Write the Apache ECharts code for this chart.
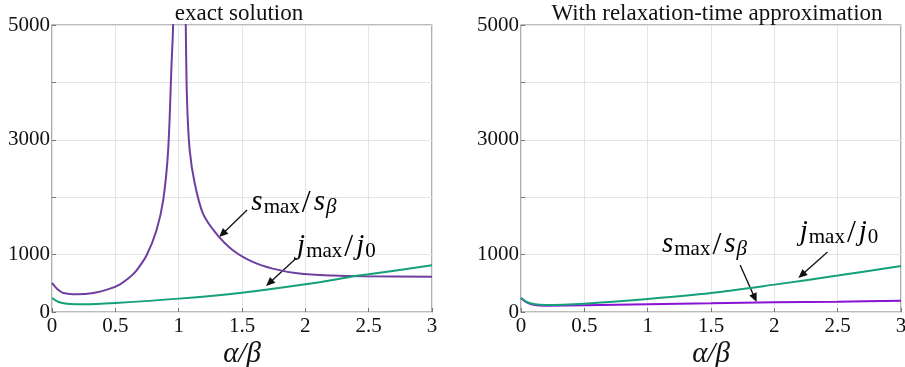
<!DOCTYPE html>
<html>
<head>
<meta charset="utf-8">
<script src="https://cdn.jsdelivr.net/npm/echarts@6/dist/echarts.min.js"></script>
<style>
  html, body { margin: 0; padding: 0; background: #fff; }
  #main { width: 905px; height: 367px; }
</style>
</head>
<body>
<div id="main"></div>
<script>
// exact solution, s_max/s_beta (diverges near alpha/beta = 1, gap at the pole)
var exactSX = [0, 0.039, 0.092, 0.196, 0.327, 0.458, 0.537, 0.616, 0.668, 0.747, 0.825, 0.878, 0.917, 0.943, 0.956, 0.97, null,
               1.04, 1.056, 1.066, 1.087, 1.127, 1.192, 1.297, 1.428, 1.585, 1.742, 1.952, 2.214, 2.476, 3];
var exactSY = [506, 407, 331, 308, 331, 407, 483, 610, 727, 988, 1424, 1948, 2820, 4273, 5000, 8000, null,
               8000, 5000, 3692, 2820, 2238, 1715, 1366, 1076, 872, 756, 669, 634, 622, 616];
// exact solution, j_max/j_0
var exactJX = [0, 0.052, 0.118, 0.249, 0.5, 1, 1.5, 2, 2.42, 2.5, 3];
var exactJY = [244, 174, 145, 134, 157, 233, 337, 483, 634, 657, 814];
// relaxation-time approximation
var relaxX = [0, 0.045, 0.11, 0.19, 0.5, 1, 1.5, 2, 2.5, 3];
var relaxJY = [244, 174, 134, 122, 145, 227, 331, 477, 634, 802];
var relaxSY = [244, 169, 122, 110, 116, 134, 151, 169, 180, 198];

var yLabels = [0, 1000, 3000, 5000];

var purple = '#6f3fa0';
var violet = '#8a12d4';
var green = '#16a07a';
var serif = '"Liberation Serif", "DejaVu Serif", serif';

function pairs(xs, ys) {
  return xs.map(function (x, i) { return x === null ? ['-', '-'] : [x, ys[i]]; });
}

var chart = echarts.init(document.getElementById('main'));

function xAxis(idx) {
  return {
    type: 'value', gridIndex: idx, min: 0, max: 3, interval: 0.5,
    name: 'α/β', nameLocation: 'middle', nameGap: 28, nameMoveOverlap: false,
    nameTextStyle: { fontFamily: serif, fontStyle: 'italic', fontSize: 29, color: '#111' },
    axisLine: { show: false },
    axisTick: { inside: true, length: 4, lineStyle: { color: '#777' } },
    axisLabel: { fontFamily: serif, fontSize: 21, color: '#111', margin: 4 },
    splitLine: { show: true, lineStyle: { color: '#e4e4e4', width: 1 } }
  };
}
function yAxis(idx) {
  return {
    type: 'value', gridIndex: idx, min: 0, max: 5000, interval: 1000,
    axisLine: { show: false },
    axisTick: { inside: true, length: 4, lineStyle: { color: '#777' } },
    axisLabel: {
      fontFamily: serif, fontSize: 21, color: '#111', margin: 2,
      formatter: function (v) { return yLabels.indexOf(v) >= 0 ? String(v) : ''; }
    },
    splitLine: { show: true, lineStyle: { color: '#e4e4e4', width: 1 } }
  };
}

function line(name, data, color, idx) {
  return {
    name: name, type: 'line', xAxisIndex: idx, yAxisIndex: idx,
    data: data, smooth: 0.3, showSymbol: false, connectNulls: false,
    lineStyle: { color: color, width: 2 }, clip: true
  };
}

chart.setOption({
  backgroundColor: '#fff',
  animation: false,
  title: [
    { text: 'exact solution', left: 234, top: -3, textAlign: 'center',
      textStyle: { fontFamily: serif, fontWeight: 'normal', fontSize: 23, color: '#111' } },
    { text: 'With relaxation-time approximation', left: 712, top: -3, textAlign: 'center',
      textStyle: { fontFamily: serif, fontWeight: 'normal', fontSize: 23, color: '#111' } }
  ],
  grid: [
    { left: 52, top: 25, width: 380, height: 287, show: true, borderColor: '#7a7a7a', borderWidth: 1.2,
      outerBoundsMode: 'none', containLabel: false },
    { left: 521, top: 25, width: 380, height: 287, show: true, borderColor: '#7a7a7a', borderWidth: 1.2,
      outerBoundsMode: 'none', containLabel: false }
  ],
  xAxis: [xAxis(0), xAxis(1)],
  yAxis: [yAxis(0), yAxis(1)],
  series: [
    line('s exact', pairs(exactSX, exactSY), purple, 0),
    line('j exact', pairs(exactJX, exactJY), green, 0),
    line('s relax', pairs(relaxX, relaxSY), violet, 1),
    line('j relax', pairs(relaxX, relaxJY), green, 1)
  ]
});

// annotations: [grid, textX, textY, arrowFromX, arrowFromY, arrowToX, arrowToY, kind]
var notes = [
  [0, 1.574, 1899, 1.54, 1777, 1.32, 1306, 's'],
  [0, 1.935, 1132, 1.93, 941, 1.69, 453, 'j'],
  [1, 1.113, 1167, 1.73, 819, 1.86, 174, 's'],
  [1, 2.20, 1376, 2.42, 1045, 2.19, 592, 'j']
];

var rich = {
  it: { fontFamily: serif, fontStyle: 'italic', fontSize: 29, color: '#111', lineHeight: 28, verticalAlign: 'top', padding: [0, 1, 0, 0] },
  n: { fontFamily: serif, fontSize: 32, color: '#111', lineHeight: 30, verticalAlign: 'top', padding: [0, 3, 0, 2] },
  sub: { fontFamily: serif, fontSize: 21, color: '#111', lineHeight: 20, verticalAlign: 'bottom' },
  subi: { fontFamily: serif, fontStyle: 'italic', fontSize: 21, color: '#111', lineHeight: 20, verticalAlign: 'bottom' }
};

var graphics = [];
notes.forEach(function (n) {
  var g = { gridIndex: n[0] };
  var t = chart.convertToPixel(g, [n[1], n[2]]);
  var a = chart.convertToPixel(g, [n[3], n[4]]);
  var b = chart.convertToPixel(g, [n[5], n[6]]);
  var txt = n[7] === 's'
    ? '{it|s}{sub|max}{n|/}{it|s}{subi|β}'
    : '{it|j}{sub|max}{n|/}{it|j}{sub|0}';
  graphics.push({
    type: 'text', x: t[0], y: t[1],
    style: { text: txt, rich: rich, verticalAlign: 'middle', align: 'left', lineHeight: 33 }
  });
  var dx = b[0] - a[0], dy = b[1] - a[1];
  var len = Math.sqrt(dx * dx + dy * dy);
  var ux = dx / len, uy = dy / len;
  var hl = 9, hw = 4;
  var bx = b[0] - ux * hl, by = b[1] - uy * hl;
  graphics.push({
    type: 'line',
    shape: { x1: a[0], y1: a[1], x2: bx + ux * 2, y2: by + uy * 2 },
    style: { stroke: '#111', lineWidth: 1.3 }
  });
  graphics.push({
    type: 'polygon',
    shape: { points: [[b[0], b[1]], [bx - uy * hw, by + ux * hw], [bx + uy * hw, by - ux * hw]] },
    style: { fill: '#111' }
  });
});
chart.setOption({ graphic: graphics });
</script>
</body>
</html>
